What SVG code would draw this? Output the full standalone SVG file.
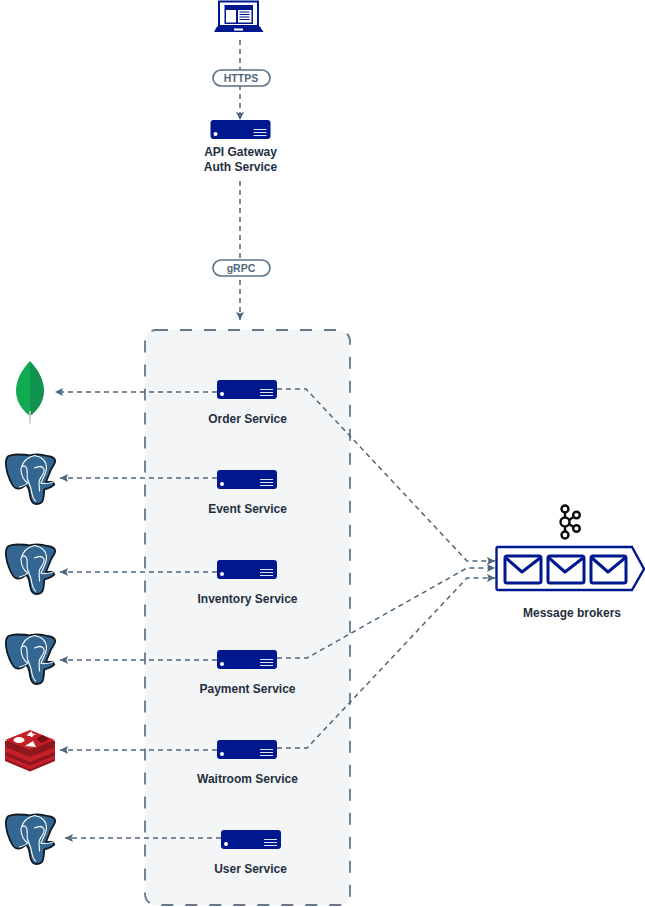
<svg xmlns="http://www.w3.org/2000/svg" xmlns:xlink="http://www.w3.org/1999/xlink" width="645" height="907" viewBox="0 0 645 907">
<style>
text{font-family:"Liberation Sans",Arial,sans-serif;font-weight:700;font-size:12px;fill:#232f3e;text-anchor:middle}
.c{fill:none;stroke:#4f667c;stroke-width:1.5;stroke-dasharray:5 4}
.pill{fill:#fff;stroke:#5a7086;stroke-width:1.6}
.pt{font-size:10.5px;fill:#52687d}
</style>
<defs>
<marker id="a" markerUnits="userSpaceOnUse" markerWidth="10" markerHeight="10" refX="9" refY="5" orient="auto"><path d="M1 1L9 5L1 9L2.500 5Z" fill="#4f667c"/></marker>
<g id="srv"><rect width="60" height="19" rx="3" fill="#00188f"/><circle cx="5" cy="14" r="2" fill="#fff"/><path d="M43 9.500H56M43 12.500H56M43 15.500H56" stroke="#e0e3f4" stroke-width="1.200"/></g>
<g id="pg">
<path d="M2 2C-0.500 4 -1 8 -0.500 12C0 17 1.500 22 3.500 26C5 29.500 7 33 9 34C11 34.800 13.500 34.500 15 33.800C17 33 18.500 31.500 19.500 30.500C21 32 22.300 34 22.800 37C23.300 40 23.500 43 24.500 45.500C25.500 48.500 27.500 50 29.500 50C32 50 35 49 36 47C37.500 44 37.300 39 37.800 35.500C41 34.500 46 33 47.800 30.500C47 28.500 45.500 27.800 44.500 27.800C43 27.800 41 27.800 39.500 27.800C41 24 43 19.500 44.500 15.500C46 12.500 48.300 10 48.800 7C48.500 4 45 2.500 41 2C37.500 1 34 0.500 31 0.500C28 0.500 25 1 22.800 1.500C19 0.500 15 0.500 11 0.500C8 0.500 4.500 1 2 2Z" fill="#336791" stroke="#101a24" stroke-width="1.800" stroke-linejoin="round"/>
<path d="M28 1.500C21 3 16 8 14.500 15C14.500 20 16 25 21 29C20 30.500 17 32 13 33M14.500 15C15 11 19 11 20 14C21.500 17 20 21 21 25C22 29 24 31 25 37C25.500 41 26 44 29 47M28 1.500C36 3 40 8 40 14C40 19 36 25 34.500 29C36 30.500 41 29.500 46 28.500M28 14C32 12 36 12 37.500 15C38.500 19 35 22 33 26C32 29 33 33 33 37" fill="none" stroke="#fff" stroke-width="1.100" stroke-linecap="round"/>
</g>
</defs>
<g id="group"><rect x="145" y="330" width="205" height="575" rx="11" fill="#f4f5f7" stroke="#66798d" stroke-width="1.800" stroke-dasharray="12 12"/></g>
<g id="connectors">
<path class="c" d="M240 40V120" marker-end="url(#a)"/>
<path class="c" d="M240 181V320" marker-end="url(#a)"/>
<path class="c" d="M217 392H55" marker-end="url(#a)"/>
<path class="c" d="M217 478H60" marker-end="url(#a)"/>
<path class="c" d="M217 572H60" marker-end="url(#a)"/>
<path class="c" d="M217 660H60" marker-end="url(#a)"/>
<path class="c" d="M217 750H60" marker-end="url(#a)"/>
<path class="c" d="M221 838H65" marker-end="url(#a)"/>
<path class="c" d="M277 389H306L467 561H495" marker-end="url(#a)"/>
<path class="c" d="M277 658H307L467 568H495" marker-end="url(#a)"/>
<path class="c" d="M277 748H307L467 578H495" marker-end="url(#a)"/>
</g>
<g id="https"><rect class="pill" x="213" y="70" width="57" height="16" rx="8"/><text class="pt" x="241" y="82">HTTPS</text></g>
<g id="grpc"><rect class="pill" x="213" y="260" width="57" height="16" rx="8"/><text class="pt" x="241" y="272">gRPC</text></g>
<g id="client">
<path d="M219 1.500H258V26H219Z" fill="#fff" stroke="#00188f" stroke-width="2"/>
<path d="M224.500 5H253V24H224.500Z" fill="#00188f"/><path d="M226 10H236V22.500H226ZM238 10H251.500V22.500H238Z" fill="#fff"/><path d="M239.500 12H249.500M239.500 14.500H249.500M239.500 17H249.500M239.500 19.500H249.500" stroke="#00188f" stroke-width="1.200"/>
<path d="M217 26.500H260L263.500 32H214Z" fill="#00188f"/><rect x="234" y="28.500" width="9" height="2" fill="#fff"/>
</g>
<g id="gateway"><use href="#srv" x="210.500" y="120"/><text x="240.500" y="156">API Gateway</text><text x="240.500" y="171">Auth Service</text></g>
<g id="order"><use href="#srv" x="217" y="380"/><text x="247.500" y="423">Order Service</text></g>
<g id="event"><use href="#srv" x="217" y="470"/><text x="247.500" y="513">Event Service</text></g>
<g id="inventory"><use href="#srv" x="217" y="560"/><text x="247.500" y="603">Inventory Service</text></g>
<g id="payment"><use href="#srv" x="217" y="650"/><text x="247.500" y="693">Payment Service</text></g>
<g id="waitroom"><use href="#srv" x="217" y="740"/><text x="247.500" y="783">Waitroom Service</text></g>
<g id="user"><use href="#srv" x="221" y="830"/><text x="250.500" y="873">User Service</text></g>
<g id="mongodb">
<path d="M30 361C23 369 16 378 16 391C16 402 23 411 30 416Z" fill="#10aa50"/>
<path d="M30 361C37 369 44 378 44 391C44 402 37 411 30 416Z" fill="#12924f"/>
<path d="M29 411H31L30.500 424H29.500Z" fill="#b8c4c2"/>
</g>
<use id="pg1" href="#pg" x="6.500" y="454"/>
<use id="pg2" href="#pg" x="6.500" y="544"/>
<use id="pg3" href="#pg" x="6.500" y="634"/>
<use id="pg4" href="#pg" x="6.500" y="814"/>
<g id="redis">
<path d="M5 741V761L30 771.500L55 761V741Z" fill="#8f161c"/>
<path d="M5 747L30 757L55 747V752L30 762L5 752Z" fill="#c4202a"/>
<path d="M5 755.500L30 765.500L55 755.500V759L30 769L5 759Z" fill="#c4202a"/>
<path d="M5 740L30 730L55 740L30 750Z" fill="#c4202a"/>
<ellipse cx="19" cy="740" rx="5.500" ry="3" fill="#fff"/>
<path d="M29 733L31.500 731.500L32.500 733.500L36 734.500L33 735.500L32 737.500L30 736L26.500 735.500Z" fill="#fff"/>
<path d="M25 746L33 741L36 747Z" fill="#fff"/>
<path d="M36 739L42 735L49 739L42 743Z" fill="#7a1016"/>
</g>
<g id="kafka" fill="none" stroke="#0b0b0b" stroke-width="2.400">
<circle cx="565" cy="509" r="3.500"/><circle cx="576.500" cy="515" r="3.300"/><circle cx="565" cy="522" r="4.500"/><circle cx="576.500" cy="528.500" r="3.300"/><circle cx="565" cy="535" r="3.500"/>
<path d="M565 512.500V517.500M565 526.500V531.500M569 520L573.500 517M569 524L573.500 527"/>
</g>
<g id="brokers">
<path d="M498 547H632L644 569L632 590H498Q496.500 590 496.500 588V549Q496.500 547 498 547Z" fill="#fff" stroke="#00188f" stroke-width="2.400"/>
<g fill="#fff" stroke="#00188f" stroke-width="3" stroke-linejoin="round">
<rect x="505" y="556" width="36" height="27" rx="2"/><path d="M506 558L522 572L540 558" fill="none"/>
<rect x="548" y="556" width="36" height="27" rx="2"/><path d="M549 558L565 572L583 558" fill="none"/>
<rect x="591" y="556" width="35" height="27" rx="2"/><path d="M592 558L608 572L625 558" fill="none"/>
</g>
<text x="572" y="617">Message brokers</text>
</g>
</svg>
